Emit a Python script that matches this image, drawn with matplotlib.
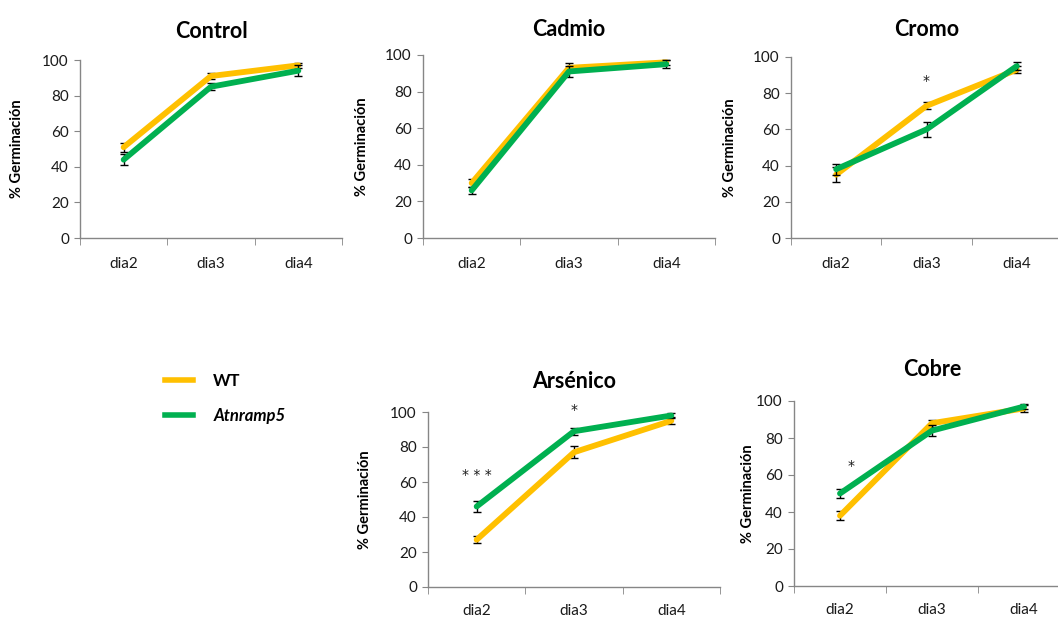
import matplotlib
matplotlib.use("Agg")
import matplotlib.pyplot as plt
from matplotlib.lines import Line2D

plt.rcParams['font.family'] = ['Lato', 'DejaVu Sans']

days = ["dia2", "dia3", "dia4"]
series_names = ["WT", "Atnramp5"]

control_wt = [51, 91, 97]
control_wt_err = [2.5, 1.5, 1.5]
control_at = [44, 85, 94]
control_at_err = [3, 2, 3]

cadmio_wt = [30, 93, 96]
cadmio_wt_err = [2, 2.5, 1.5]
cadmio_at = [26, 91, 95]
cadmio_at_err = [2, 3, 2]

cromo_wt = [35, 73, 93]
cromo_wt_err = [4, 2, 2]
cromo_at = [38, 60, 95]
cromo_at_err = [3, 4, 2]

arsenico_wt = [27, 77, 95]
arsenico_wt_err = [2, 3.5, 2]
arsenico_at = [46, 89, 98]
arsenico_at_err = [3, 2, 1.5]

cobre_wt = [38, 88, 96]
cobre_wt_err = [2.5, 2, 2]
cobre_at = [50, 84, 97]
cobre_at_err = [2.5, 3, 1.5]

titles = ["Control", "Cadmio", "Cromo", "Arsénico", "Cobre"]

# significance marks: (panel, day index, text, y value)
signif = [
    ("Cromo", 1, "*", 87),
    ("Arsénico", 0, "* * *", 64),
    ("Arsénico", 1, "*", 101),
    ("Cobre", 0, "*", 65),
]

data = {
    "Control": (control_wt, control_wt_err, control_at, control_at_err),
    "Cadmio": (cadmio_wt, cadmio_wt_err, cadmio_at, cadmio_at_err),
    "Cromo": (cromo_wt, cromo_wt_err, cromo_at, cromo_at_err),
    "Arsénico": (arsenico_wt, arsenico_wt_err, arsenico_at, arsenico_at_err),
    "Cobre": (cobre_wt, cobre_wt_err, cobre_at, cobre_at_err),
}

W, H = 1058, 619
def rect(l, t, r, b):
    return [l / W, 1 - b / H, (r - l) / W, (b - t) / H]

positions = {
    "Control": rect(80, 60, 342, 238),
    "Cadmio": rect(423, 55, 715, 238),
    "Cromo": rect(791, 57, 1062, 238),
    "Arsénico": rect(428, 412, 720, 587),
    "Cobre": rect(794, 401, 1070, 586),
}
ylabelpads = {"Control": 13, "Cadmio": 12, "Cromo": 12, "Arsénico": 13, "Cobre": 1}
title_pads = {"Control": 16, "Cadmio": 14, "Cromo": 15, "Arsénico": 17, "Cobre": 18}
xlabel_pads = {"Control": 14, "Cadmio": 14, "Cromo": 14, "Arsénico": 12, "Cobre": 12}

WT_COLOR = "#FFC000"
AT_COLOR = "#00B050"
SPINE = "#868686"
TXT = "#1a1a1a"

fig = plt.figure(figsize=(W / 100, H / 100), dpi=100)

for name in titles:
    wt, wte, at, ate = data[name]
    ax = fig.add_axes(positions[name])
    x = [0.5, 1.5, 2.5]
    ax.errorbar(x, wt, yerr=wte, color=WT_COLOR, lw=4.2, ecolor="black",
                elinewidth=1, capsize=3, capthick=1, zorder=2, solid_capstyle="round")
    ax.errorbar(x, at, yerr=ate, color=AT_COLOR, lw=4.2, ecolor="black",
                elinewidth=1, capsize=3, capthick=1, zorder=3, solid_capstyle="round")
    ax.set_xlim(0, 3)
    ax.set_ylim(0, 100)
    ax.set_yticks([0, 20, 40, 60, 80, 100])
    ax.set_xticks(x)
    ax.set_xticklabels(days)
    ax.set_xticks([0, 1, 2, 3], minor=True)
    ax.tick_params(axis="x", which="major", length=0, pad=xlabel_pads[name], labelsize=11, labelcolor=TXT)
    ax.tick_params(axis="x", which="minor", length=5, color=SPINE, direction="out")
    ax.tick_params(axis="y", length=4, color=SPINE, labelsize=11, labelcolor=TXT, pad=4)
    for s in ["top", "right"]:
        ax.spines[s].set_visible(False)
    for s in ["left", "bottom"]:
        ax.spines[s].set_color(SPINE)
        ax.spines[s].set_linewidth(1)
    ax.set_ylabel("% Germinación", fontsize=10.5, fontweight="bold", labelpad=ylabelpads[name])
    ax.set_title(name, fontsize=15.5, fontweight="bold", pad=title_pads[name])
    ax.patch.set_alpha(0)
    for pname, di, txt, yv in signif:
        if pname == name:
            xoff = 0.12 if (name == "Cobre") else 0
            ax.text(x[di] + xoff, yv, txt, ha="center", va="center", fontsize=10,
                    color=TXT, family="DejaVu Sans")

handles = [Line2D([], [], color=WT_COLOR, lw=4), Line2D([], [], color=AT_COLOR, lw=4)]
leg = fig.legend(handles, series_names, loc="upper left", bbox_to_anchor=(150 / W, 1 - 358 / H),
                 frameon=False, prop={"weight": "bold", "size": 12}, handlelength=1.7,
                 handletextpad=1.2, labelspacing=1.15)
leg.get_texts()[1].set_style("italic")

fig.savefig("out.png", dpi=100)
